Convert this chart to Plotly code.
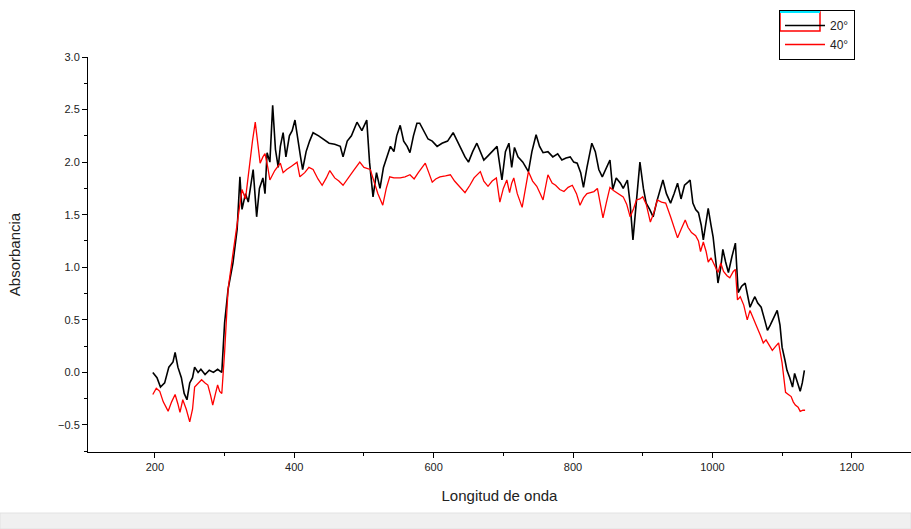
import plotly.graph_objects as go

# Series 20° (black)
x20 = [197, 203, 208, 214, 220, 226, 229, 233, 238, 242, 246, 250, 254, 257, 262, 266, 272, 278, 284, 290, 296,
       300, 305, 312, 318, 322, 325, 330, 334, 338, 341, 346, 350, 355, 358, 361, 365, 369, 373, 377, 380, 384,
       388, 393, 397, 401, 405, 409, 412, 417, 422, 427, 435, 442, 450, 458, 466, 470, 476, 482, 490, 497, 504,
       508, 513, 518, 523, 528, 533, 538, 543, 547, 552, 557, 562, 566, 571, 576, 580, 586, 592, 598, 605, 612,
       620, 628, 634, 640, 645, 650, 656, 662, 667, 672, 678, 684, 691, 698, 703, 708, 712, 716, 721, 728, 736,
       741, 747, 752, 757, 764, 771, 778, 784, 790, 796, 801, 806, 811, 815, 820, 827, 832, 837, 842, 848, 853,
       857, 862, 868, 872, 878, 882, 886, 890, 896, 901, 905, 910, 915, 920, 925, 929, 934, 940, 945, 950, 955,
       960, 965, 968, 972, 976, 980, 984, 987, 991, 994, 998, 1001, 1005, 1008, 1012, 1015, 1019, 1023, 1028,
       1033, 1037, 1042, 1047, 1051, 1054, 1058, 1061, 1065, 1070, 1075, 1079, 1083, 1088, 1093, 1097, 1100,
       1104, 1107, 1111, 1115, 1118, 1122, 1126, 1129, 1132]
y20 = [0.00, -0.05, -0.14, -0.10, 0.05, 0.10, 0.19, 0.05, -0.05, -0.20, -0.26, -0.10, -0.05, 0.05, 0.00, 0.03,
       -0.02, 0.02, 0.00, 0.03, 0.00,
       0.47, 0.79, 1.04, 1.36, 1.86, 1.55, 1.70, 1.62, 1.80, 1.93, 1.48, 1.75, 1.85, 1.70, 2.09, 2.00, 2.54, 2.12,
       1.95, 2.15, 2.28, 2.05, 2.25, 2.30, 2.40, 2.20, 2.05, 1.93, 2.10, 2.20, 2.28, 2.25, 2.22, 2.18, 2.17, 2.15,
       2.05, 2.20, 2.25, 2.38, 2.30, 2.40, 2.00, 1.67, 1.90, 1.75, 1.95, 2.05, 2.15, 2.10, 2.25, 2.35, 2.20, 2.15,
       2.09, 2.25, 2.37, 2.37, 2.30, 2.22, 2.20, 2.15, 2.18, 2.20, 2.28, 2.20, 2.12, 2.05, 2.00, 2.10, 2.18, 2.10,
       2.02, 2.06, 2.10, 2.15, 1.83, 2.10, 2.18, 1.95, 2.14, 2.05, 2.00, 1.91, 2.10, 2.26, 2.15, 2.09, 2.10, 2.05,
       2.08, 2.02, 2.04, 2.05, 2.00, 1.99, 1.90, 1.76, 1.95, 2.18, 2.10, 1.93, 1.86, 1.95, 2.02, 1.74, 1.85, 1.80,
       1.75, 1.83, 1.60, 1.26, 1.55, 2.00, 1.75, 1.61, 1.55, 1.48, 1.62, 1.75, 1.83, 1.70, 1.61, 1.70, 1.80, 1.65,
       1.78, 1.81, 1.83, 1.61, 1.55, 1.52, 1.40, 1.26, 1.45, 1.56, 1.40, 1.29, 1.05, 0.85, 1.00, 1.17, 1.05, 0.95,
       1.10, 1.23, 0.76, 0.82, 0.85, 0.70, 0.62, 0.68, 0.72, 0.66, 0.62, 0.50, 0.40, 0.45, 0.52, 0.59, 0.45, 0.24,
       0.12, 0.02, -0.05, -0.14, -0.01, -0.10, -0.18, -0.10, 0.02]

# Series 40° (red)
x40 = [197, 202, 207, 212, 216, 219, 224, 229, 233, 236, 240, 245, 250, 254, 257, 262, 267, 272, 276, 280, 283,
       287, 290, 293, 296, 300, 305, 312, 319, 325, 330, 336, 340, 344, 348, 351, 355, 358, 362, 365, 372, 380,
       384, 389, 396, 404, 408, 415, 421, 427, 434, 440, 446, 451, 458, 464, 470, 477, 485, 494, 500, 509, 514,
       520, 527, 532, 537, 543, 552, 559, 566, 572, 578, 584, 588, 593, 598, 603, 609, 617, 624, 630, 636, 645,
       652, 658, 667, 672, 678, 684, 690, 695, 700, 705, 709, 712, 715, 720, 727, 732, 736, 742, 748, 753, 757,
       764, 770, 775, 781, 787, 793, 799, 805, 810, 815, 820, 825, 830, 835, 839, 843, 848, 853, 858, 863, 868,
       872, 877, 882, 887, 891, 896, 900, 905, 911, 916, 921, 927, 933, 940, 945, 950, 955, 961, 965, 970, 976,
       980, 983, 987, 991, 994, 998, 1003, 1008, 1012, 1016, 1021, 1025, 1030, 1033, 1036, 1040, 1045, 1050,
       1054, 1058, 1064, 1069, 1073, 1077, 1082, 1086, 1091, 1095, 1100, 1105, 1109, 1113, 1116, 1119, 1123,
       1126, 1130, 1133]
y40 = [-0.21, -0.15, -0.18, -0.28, -0.33, -0.37, -0.28, -0.21, -0.30, -0.38, -0.26, -0.35, -0.47, -0.35, -0.14,
       -0.10, -0.07, -0.10, -0.12, -0.22, -0.31, -0.20, -0.12, -0.18, -0.20, 0.19, 0.79, 1.13, 1.48, 1.74, 1.65,
       1.99, 2.20, 2.38, 2.15, 1.99, 2.05, 2.08, 1.95, 1.83, 1.92, 1.99, 1.90, 1.93, 1.96, 2.00, 1.86, 1.90, 1.95,
       1.93, 1.84, 1.78, 1.85, 1.92, 1.85, 1.82, 1.78, 1.85, 1.92, 2.00, 1.95, 1.93, 1.83, 1.70, 1.59, 1.75, 1.86,
       1.85, 1.85, 1.86, 1.88, 1.84, 1.90, 1.95, 1.99, 1.90, 1.81, 1.84, 1.86, 1.87, 1.88, 1.82, 1.78, 1.71, 1.78,
       1.85, 1.91, 1.82, 1.77, 1.82, 1.85, 1.62, 1.75, 1.83, 1.71, 1.80, 1.85, 1.70, 1.57, 1.75, 1.91, 1.82, 1.77,
       1.70, 1.64, 1.88, 1.80, 1.78, 1.74, 1.72, 1.76, 1.78, 1.70, 1.59, 1.66, 1.70, 1.71, 1.72, 1.75, 1.60, 1.47,
       1.62, 1.76, 1.73, 1.71, 1.69, 1.67, 1.60, 1.48, 1.56, 1.64, 1.65, 1.67, 1.60, 1.43, 1.52, 1.64, 1.62, 1.61,
       1.48, 1.38, 1.28, 1.36, 1.45, 1.38, 1.33, 1.30, 1.25, 1.15, 1.24, 1.15, 1.05, 1.09, 1.02, 0.95, 1.04, 0.96,
       0.92, 0.90, 0.96, 0.98, 0.69, 0.72, 0.64, 0.50, 0.59, 0.52, 0.43, 0.35, 0.28, 0.31, 0.26, 0.21, 0.25, 0.28,
       0.09, -0.19, -0.21, -0.23, -0.28, -0.31, -0.33, -0.37, -0.36, -0.36]

names = ["20°", "40°"]
x_ticks = [200, 400, 600, 800, 1000, 1200]
y_ticks = [-0.5, 0.0, 0.5, 1.0, 1.5, 2.0, 2.5, 3.0]

fig = go.Figure()
fig.add_trace(go.Scatter(x=x20, y=y20, mode="lines", name=names[0],
                         line=dict(color="black", width=1.6)))
fig.add_trace(go.Scatter(x=x40, y=y40, mode="lines", name=names[1],
                         line=dict(color="#ff0000", width=1.3)))

font = "Liberation Sans, Arial, sans-serif"
W = 823.0
H = 395.0


def px(x):
    return (x - 88) / W


def py(y):
    return (452 - y) / H


fig.update_layout(
    width=911, height=529,
    margin=dict(l=88, r=0, t=57, b=77),
    paper_bgcolor="white", plot_bgcolor="white",
    font=dict(family=font, color="#222222", size=11),
    showlegend=True,
    legend=dict(x=px(779), y=py(10), xanchor="left", yanchor="top",
                bordercolor="black", borderwidth=1, bgcolor="rgba(0,0,0,0)",
                font=dict(size=12, color="#222222"), itemwidth=40,
                tracegroupgap=0),
    xaxis=dict(range=[104, 1285], tickvals=x_ticks, ticks="outside", ticklen=5, tickwidth=1,
               tickcolor="black", showline=True, linecolor="black", linewidth=1,
               showgrid=False, zeroline=False,
               minor=dict(dtick=100, tick0=100, ticks="outside", ticklen=3, tickcolor="black"),
               title=dict(text="Longitud de onda", font=dict(size=15, color="#222222"), standoff=18),
               tickfont=dict(size=11)),
    yaxis=dict(range=[-0.757, 3.0], tickvals=y_ticks, tickformat=".1f", ticks="outside", ticklen=5,
               tickwidth=1, tickcolor="black", showline=True, linecolor="black", linewidth=1,
               showgrid=False, zeroline=False,
               minor=dict(dtick=0.25, tick0=0, ticks="outside", ticklen=3, tickcolor="black"),
               title=dict(text="Absorbancia", font=dict(size=15, color="#222222"), standoff=33),
               tickfont=dict(size=11)),
)

# Legend artefacts of the original (cyan line and red frame behind the first entry)
fig.add_shape(type="rect", xref="paper", yref="paper",
              x0=px(780), x1=px(820), y0=py(31), y1=py(12),
              fillcolor="rgba(0,0,0,0)", line=dict(color="#ff0000", width=1.5), layer="above")
fig.add_shape(type="line", xref="paper", yref="paper",
              x0=px(779), x1=px(820), y0=py(12), y1=py(12),
              line=dict(color="#00e5ff", width=2), layer="above")

# Bottom grey strip
fig.add_shape(type="rect", xref="paper", yref="paper",
              x0=-88 / W, x1=1.0, y0=-(529 - 452) / H, y1=-(513 - 452) / H,
              fillcolor="#f0f0f0", line=dict(color="#e2e2e2", width=1), layer="below")

fig.write_html("out.html")
